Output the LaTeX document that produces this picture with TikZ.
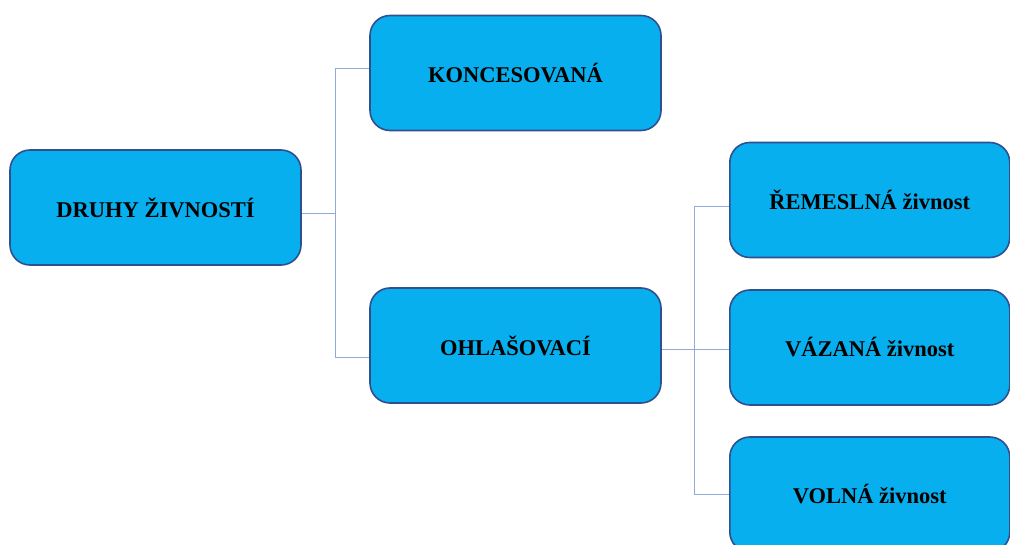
\documentclass[tikz,border=0pt]{standalone}
\usepackage{fontspec}
\setmainfont{Liberation Serif}
\definecolor{boxfill}{HTML}{07AFEE}
\definecolor{boxline}{HTML}{2F4F8F}
\definecolor{connline}{HTML}{8FAADC}
\begin{document}
\begin{tikzpicture}[x=1pt,y=-1pt,
  box/.style={draw=boxline, line width=1.6pt, fill=boxfill, rounded corners=20pt,
    minimum height=115pt, inner sep=0pt, font=\fontsize{22.5}{26}\selectfont\bfseries, text=black},
  bigbox/.style={box, minimum width=291pt},
  rbox/.style={box, minimum width=280pt},
  conn/.style={draw=connline, line width=0.9pt}]
\useasboundingbox (0,0) rectangle (1010,545);
\clip (0,0) rectangle (1010,545);
\node[bigbox] (druhy) at (155.5,207.5) {DRUHY ŽIVNOSTÍ};
\node[bigbox] (konc) at (515.5,73) {KONCESOVANÁ};
\node[bigbox] (ohl) at (515.5,345.5) {OHLAŠOVACÍ};
\node[rbox, anchor=west] (rem) at (729,200) {ŘEMESLNÁ živnost};
\node[rbox, anchor=west] (vaz) at (729,347.5) {VÁZANÁ živnost};
\node[rbox, anchor=west] (vol) at (729,494.5) {VOLNÁ živnost};
\coordinate (druhyE) at ([yshift=-5.5pt]druhy.east);
\coordinate (koncW) at ([yshift=5pt]konc.west);
\coordinate (ohlW) at ([yshift=-11.5pt]ohl.west);
\coordinate (ohlE) at ([yshift=-3.5pt]ohl.east);
\coordinate (vazW) at ([yshift=-1.5pt]vaz.west);
\coordinate (remW) at ([yshift=-6pt]rem.west);
\coordinate (t1) at (335,0);
\coordinate (t2) at (694,0);
\draw[conn] (druhyE) -- (t1 |- druhyE);
\draw[conn] (koncW) -| (t1 |- ohlW) -- (ohlW);
\draw[conn] (ohlE) -- (vazW);
\draw[conn] (remW) -| (t2 |- vol.west) -- (vol.west);
\end{tikzpicture}
\end{document}
